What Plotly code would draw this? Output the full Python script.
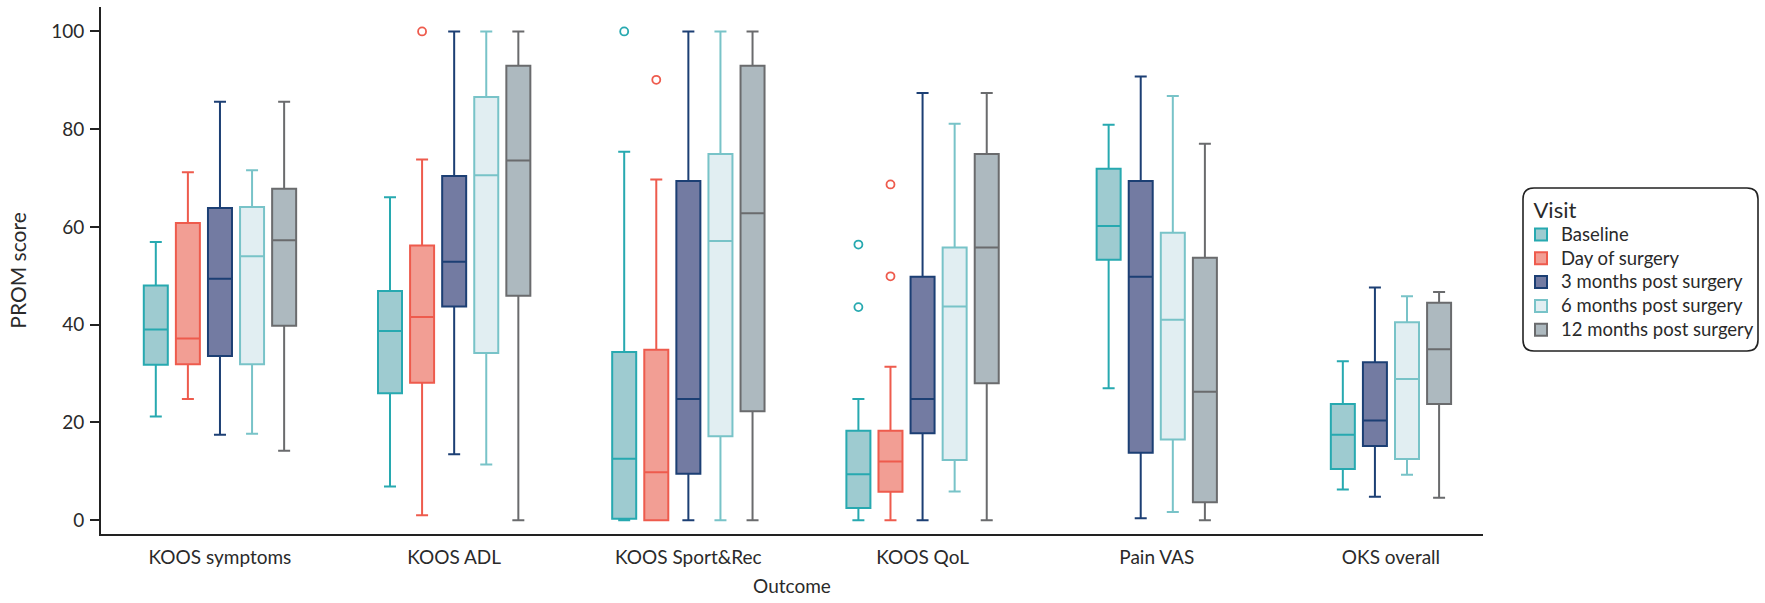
import plotly.graph_objects as go

# ---------------- data ----------------
categories = ["KOOS symptoms", "KOOS ADL", "KOOS Sport&Rec", "KOOS QoL", "Pain VAS", "OKS overall"]
visits = ["Baseline", "Day of surgery", "3 months post surgery",
          "6 months post surgery", "12 months post surgery"]

baseline_lower = [21.2, 6.9, 0.0, 0.0, 27.0, 6.3]
baseline_q1 = [31.8, 26.0, 0.3, 2.5, 53.3, 10.5]
baseline_median = [39.0, 38.7, 12.6, 9.4, 60.2, 17.5]
baseline_q3 = [48.0, 46.9, 34.4, 18.3, 71.9, 23.8]
baseline_upper = [56.9, 66.1, 75.4, 24.8, 80.9, 32.5]

dos_lower = [24.8, 1.0, 0.0, 0.0, None, None]
dos_q1 = [31.9, 28.1, 0.0, 5.8, None, None]
dos_median = [37.2, 41.6, 9.8, 12.0, None, None]
dos_q3 = [60.8, 56.2, 34.9, 18.3, None, None]
dos_upper = [71.2, 73.8, 69.7, 31.4, None, None]

m3_lower = [17.5, 13.5, 0.0, 0.0, 0.4, 4.8]
m3_q1 = [33.6, 43.7, 9.5, 17.8, 13.8, 15.2]
m3_median = [49.4, 52.9, 24.8, 24.8, 49.8, 20.4]
m3_q3 = [63.9, 70.4, 69.4, 49.8, 69.4, 32.3]
m3_upper = [85.6, 100.0, 100.0, 87.4, 90.8, 47.6]

m6_lower = [17.7, 11.4, 0.0, 5.9, 1.7, 9.3]
m6_q1 = [31.9, 34.2, 17.2, 12.3, 16.5, 12.5]
m6_median = [54.0, 70.6, 57.1, 43.7, 41.0, 28.9]
m6_q3 = [64.1, 86.6, 74.9, 55.8, 58.8, 40.5]
m6_upper = [71.6, 100.0, 100.0, 81.1, 86.8, 45.8]

m12_lower = [14.2, 0.0, 0.0, 0.0, 0.0, 4.6]
m12_q1 = [39.8, 45.9, 22.3, 28.0, 3.7, 23.8]
m12_median = [57.3, 73.6, 62.8, 55.8, 26.3, 35.0]
m12_q3 = [67.8, 93.0, 93.0, 74.9, 53.7, 44.5]
m12_upper = [85.6, 100.0, 100.0, 87.4, 77.0, 46.7]

outlier_category = ["KOOS ADL", "KOOS Sport&Rec", "KOOS Sport&Rec",
                    "KOOS QoL", "KOOS QoL", "KOOS QoL", "KOOS QoL"]
outlier_visit = ["Day of surgery", "Baseline", "Day of surgery",
                 "Baseline", "Baseline", "Day of surgery", "Day of surgery"]
outlier_value = [100.0, 100.0, 90.1, 56.4, 43.6, 68.7, 49.9]

y_tick_values = [0, 20, 40, 60, 80, 100]
y_tick_labels = ["0", "20", "40", "60", "80", "100"]

# ---------------- styling ----------------
fills = ["#9ecbd0", "#f29e94", "#737ba2", "#e1eef2", "#adb9bf"]
lines = ["#27a9b0", "#ee5b4d", "#1c3f74", "#78c3c8", "#6a6b6d"]
FONT = "Lato"
TXT = "#2a2a2a"
AXC = "#222222"

stats = {
    "Baseline": (baseline_lower, baseline_q1, baseline_median, baseline_q3, baseline_upper),
    "Day of surgery": (dos_lower, dos_q1, dos_median, dos_q3, dos_upper),
    "3 months post surgery": (m3_lower, m3_q1, m3_median, m3_q3, m3_upper),
    "6 months post surgery": (m6_lower, m6_q1, m6_median, m6_q3, m6_upper),
    "12 months post surgery": (m12_lower, m12_q1, m12_median, m12_q3, m12_upper),
}

SLOT = 0.137   # dodge spacing (category units)
BOXW = 0.1025  # box width (category units)


def present(ci):
    """visits that have a box in category ci"""
    return [v for v in visits if stats[v][2][ci] is not None]


def position(ci, visit):
    pv = present(ci)
    k = pv.index(visit)
    return ci + (k - (len(pv) - 1) / 2.0) * SLOT


fig = go.Figure()
for vi, v in enumerate(visits):
    lo, q1, me, q3, up = stats[v]
    idx = [ci for ci in range(len(categories)) if me[ci] is not None]
    fig.add_trace(go.Box(
        name=f'<span style="font-size:18.5px">{v}</span>',
        x=[position(ci, v) for ci in idx],
        lowerfence=[lo[ci] for ci in idx],
        q1=[q1[ci] for ci in idx],
        median=[me[ci] for ci in idx],
        q3=[q3[ci] for ci in idx],
        upperfence=[up[ci] for ci in idx],
        width=BOXW,
        whiskerwidth=0.5,
        fillcolor=fills[vi],
        line=dict(color=lines[vi], width=2),
        boxpoints=False,
        hoverinfo="skip",
    ))

for vi, v in enumerate(visits):
    xs = [position(categories.index(c), v) for c, vv in zip(outlier_category, outlier_visit) if vv == v]
    ys = [val for vv, val in zip(outlier_visit, outlier_value) if vv == v]
    if xs:
        fig.add_trace(go.Scatter(
            x=xs, y=ys, mode="markers", showlegend=False, hoverinfo="skip",
            marker=dict(symbol="circle-open", size=8, color=lines[vi],
                        line=dict(width=1.8, color=lines[vi])),
        ))

# ---------------- layout ----------------
W, H = 1765, 603
ML, MR, MT, MB = 101, 282, 7, 69
pw, ph = W - ML - MR, H - MT - MB


def px2paper(xp, yp):
    return (xp - ML) / pw, (H - MB - yp) / ph


# rounded legend frame (pixel bounds from the reference)
x0, y1 = px2paper(1523, 188)
x1, y0 = px2paper(1758, 351)
rx, ry = 11 / pw, 11 / ph
path = (f"M{x0+rx},{y1} L{x1-rx},{y1} Q{x1},{y1} {x1},{y1-ry} "
        f"L{x1},{y0+ry} Q{x1},{y0} {x1-rx},{y0} L{x0+rx},{y0} "
        f"Q{x0},{y0} {x0},{y0+ry} L{x0},{y1-ry} Q{x0},{y1} {x0+rx},{y1} Z")

lx, ly = px2paper(1521, 189)

fig.update_layout(
    width=W, height=H,
    margin=dict(l=ML, r=MR, t=MT, b=MB, autoexpand=False),
    plot_bgcolor="white", paper_bgcolor="white",
    boxmode="overlay",
    font=dict(family=FONT, size=19, color=TXT),
    showlegend=True,
    legend=dict(
        x=lx, y=ly, xanchor="left", yanchor="top",
        bgcolor="rgba(0,0,0,0)", borderwidth=0,
        font=dict(family=FONT, size=16, color=TXT),
        title=dict(text="\u00a0\u00a0Visit", font=dict(family=FONT, size=22, color=TXT)),
        tracegroupgap=0,
    ),
    shapes=[dict(type="path", xref="paper", yref="paper", path=path,
                 line=dict(color=AXC, width=1.6), fillcolor="rgba(0,0,0,0)")],
    xaxis=dict(
        range=[-0.508, 5.393],
        tickmode="array", tickvals=list(range(len(categories))), ticktext=categories,
        showline=True, linecolor=AXC, linewidth=2,
        ticks="", showgrid=False, zeroline=False,
        ticklabelstandoff=5,
        tickfont=dict(family=FONT, size=19, color=TXT),
        title=dict(text="Outcome", standoff=13, font=dict(family=FONT, size=19, color=TXT)),
    ),
    yaxis=dict(
        range=[-2.82, 105.0],
        tickmode="array", tickvals=y_tick_values, ticktext=y_tick_labels,
        showline=True, linecolor=AXC, linewidth=2,
        ticks="outside", ticklen=9, tickwidth=2, tickcolor=AXC,
        showgrid=False, zeroline=False,
        ticklabelstandoff=2,
        tickfont=dict(family=FONT, size=19, color=TXT),
        title=dict(text="PROM score", standoff=19, font=dict(family=FONT, size=21, color=TXT)),
    ),
)

fig.write_html("out.html",
               config={"displayModeBar": False},
               post_script="document.body.style.margin='0px';document.body.style.overflow='hidden';")
